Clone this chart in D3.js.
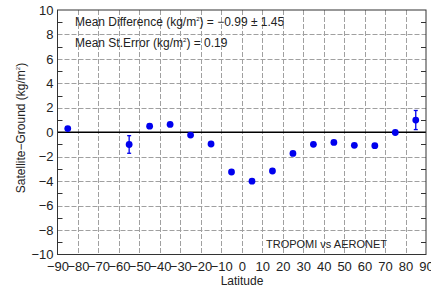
<!DOCTYPE html>
<html>
<head>
<meta charset="utf-8">
<script src="https://cdn.jsdelivr.net/npm/d3@7"></script>
<style>
  body { margin: 0; background: #fff; }
  svg { display: block; font-family: "Liberation Sans", Arial, sans-serif; }
</style>
</head>
<body>
<svg id="chart" width="431" height="288"></svg>
<script>
// latitude bin centres and satellite - ground difference
const latitudes = [-85, -55, -45, -35, -25, -15, -5, 5, 15, 25, 35, 45, 55, 65, 75, 85];
const differences = [0.3, -1.0, 0.5, 0.64, -0.23, -0.96, -3.25, -4.0, -3.17, -1.73, -0.99, -0.83, -1.07, -1.1, -0.02, 1.0];
const errors = [0.1, 0.72, 0.15, 0.1, 0.1, 0.05, 0.05, 0.05, 0.05, 0.05, 0.05, 0.05, 0.05, 0.05, 0.05, 0.78];
const xTicks = d3.range(-90, 91, 10);
const yTicks = d3.range(-10, 11, 2);
const yMinorTicks = d3.range(-9, 10, 2);

const svg = d3.select("#chart");
const margin = {left: 57.5, right: 426, top: 10, bottom: 254.5};

const x = d3.scaleLinear().domain([-90, 90]).range([margin.left, margin.right]);
const y = d3.scaleLinear().domain([-10, 10]).range([margin.bottom, margin.top]);

// grid
const grid = svg.append("g").attr("stroke", "#a0a0a0").attr("stroke-width", 1).attr("stroke-dasharray", "5,2");
grid.selectAll("line.vx").data(xTicks.slice(1, -1)).join("line")
    .attr("x1", d => Math.round(x(d)) + 0.5).attr("x2", d => Math.round(x(d)) + 0.5)
    .attr("y1", margin.top).attr("y2", margin.bottom);
grid.selectAll("line.hy").data(yTicks.slice(1, -1).filter(d => d !== 0)).join("line")
    .attr("y1", d => Math.round(y(d)) + 0.5).attr("y2", d => Math.round(y(d)) + 0.5)
    .attr("x1", margin.left).attr("x2", margin.right);

// minor ticks on left/right
const minor = svg.append("g").attr("stroke", "#333");
minor.selectAll("line.l").data(yMinorTicks).join("line")
    .attr("x1", margin.left).attr("x2", margin.left + 5)
    .attr("y1", d => Math.round(y(d)) + 0.5).attr("y2", d => Math.round(y(d)) + 0.5);
minor.selectAll("line.r").data(yMinorTicks).join("line")
    .attr("x1", margin.right - 5).attr("x2", margin.right)
    .attr("y1", d => Math.round(y(d)) + 0.5).attr("y2", d => Math.round(y(d)) + 0.5);

// zero line
svg.append("line")
    .attr("x1", margin.left).attr("x2", margin.right)
    .attr("y1", y(0)).attr("y2", y(0))
    .attr("stroke", "#000").attr("stroke-width", 1.5);

// frame
svg.append("rect")
    .attr("x", margin.left).attr("y", margin.top)
    .attr("width", margin.right - margin.left).attr("height", margin.bottom - margin.top)
    .attr("fill", "none").attr("stroke", "#333").attr("stroke-width", 1);

// axes
const xAxis = svg.append("g")
    .attr("transform", `translate(0,${margin.bottom})`)
    .call(d3.axisBottom(x).tickValues(xTicks).tickSize(0).tickPadding(7));
const yAxis = svg.append("g")
    .attr("transform", `translate(${margin.left},0)`)
    .call(d3.axisLeft(y).tickValues(yTicks).tickSize(0).tickPadding(4));
[xAxis, yAxis].forEach(a => {
    a.select(".domain").remove();
    a.selectAll("text").attr("font-size", 13).attr("fill", "#222").attr("font-family", "Liberation Sans, Arial, sans-serif");
});

// error bars
const pts = latitudes.map((d, i) => ({lat: d, v: differences[i], e: errors[i]}));
const eb = svg.append("g").attr("stroke", "#0000ee").attr("stroke-width", 1.3);
eb.selectAll("line.bar").data(pts).join("line")
    .attr("x1", d => x(d.lat)).attr("x2", d => x(d.lat))
    .attr("y1", d => y(d.v - d.e)).attr("y2", d => y(d.v + d.e));
eb.selectAll("line.cap1").data(pts).join("line")
    .attr("x1", d => x(d.lat) - 2).attr("x2", d => x(d.lat) + 2)
    .attr("y1", d => y(d.v - d.e)).attr("y2", d => y(d.v - d.e));
eb.selectAll("line.cap2").data(pts).join("line")
    .attr("x1", d => x(d.lat) - 2).attr("x2", d => x(d.lat) + 2)
    .attr("y1", d => y(d.v + d.e)).attr("y2", d => y(d.v + d.e));

// points
svg.append("g").selectAll("circle").data(pts).join("circle")
    .attr("cx", d => x(d.lat)).attr("cy", d => y(d.v))
    .attr("r", 3.4).attr("fill", "#0000ee");

// annotations
const ann = svg.append("g").attr("font-size", 12).attr("fill", "#222");
const t1 = ann.append("text").attr("x", 75).attr("y", 26);
t1.append("tspan").text("Mean Difference (kg/m");
t1.append("tspan").attr("font-size", 6).attr("dy", -5).text("2");
t1.append("tspan").attr("dy", 5).text(") = \u22120.99 \u00b1 1.45");
const t2 = ann.append("text").attr("x", 75).attr("y", 47);
t2.append("tspan").text("Mean St.Error (kg/m");
t2.append("tspan").attr("font-size", 6).attr("dy", -5).text("2");
t2.append("tspan").attr("dy", 5).text(") = 0.19");
ann.append("text").attr("x", 387).attr("y", 248).attr("text-anchor", "end")
    .attr("font-size", 11).text("TROPOMI vs AERONET");

// axis titles
svg.append("text").attr("x", 242).attr("y", 285).attr("text-anchor", "middle")
    .attr("font-size", 12).attr("fill", "#222").text("Latitude");
const yl = svg.append("text")
    .attr("transform", "translate(25,128) rotate(-90)")
    .attr("text-anchor", "middle").attr("font-size", 12).attr("fill", "#222");
yl.append("tspan").text("Satellite\u2212Ground (kg/m");
yl.append("tspan").attr("font-size", 6).attr("dy", -5).text("2");
yl.append("tspan").attr("dy", 5).text(")");
</script>
</body>
</html>
